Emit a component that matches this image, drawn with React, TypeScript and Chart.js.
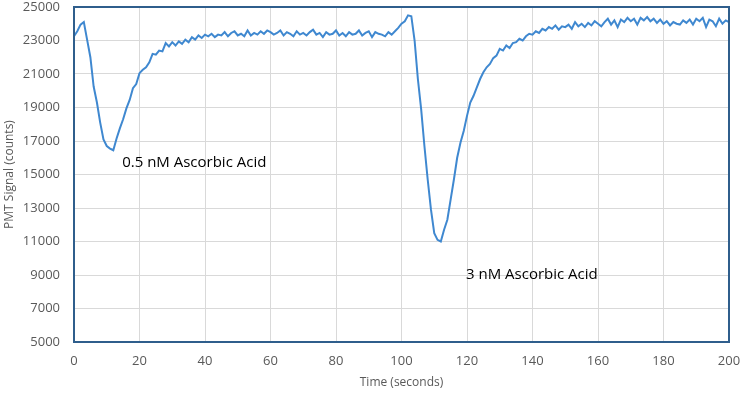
import React, { useEffect, useRef } from "react";
import { Chart, registerables } from "chart.js";

Chart.register(...registerables);

const times: number[] = [
  0, 1, 2, 3, 4, 5, 6, 7, 8, 9, 10, 11, 12, 13, 14, 15, 16, 17, 18, 19,
  20, 21, 22, 23, 24, 25, 26, 27, 28, 29, 30, 31, 32, 33, 34, 35, 36, 37, 38, 39,
  40, 41, 42, 43, 44, 45, 46, 47, 48, 49, 50, 51, 52, 53, 54, 55, 56, 57, 58, 59,
  60, 61, 62, 63, 64, 65, 66, 67, 68, 69, 70, 71, 72, 73, 74, 75, 76, 77, 78, 79,
  80, 81, 82, 83, 84, 85, 86, 87, 88, 89, 90, 91, 92, 93, 94, 95, 96, 97, 98, 99,
  100, 101, 102, 103, 104, 105, 106, 107, 108, 109, 110, 111, 112, 113, 114, 115, 116, 117, 118, 119,
  120, 121, 122, 123, 124, 125, 126, 127, 128, 129, 130, 131, 132, 133, 134, 135, 136, 137, 138, 139,
  140, 141, 142, 143, 144, 145, 146, 147, 148, 149, 150, 151, 152, 153, 154, 155, 156, 157, 158, 159,
  160, 161, 162, 163, 164, 165, 166, 167, 168, 169, 170, 171, 172, 173, 174, 175, 176, 177, 178, 179,
  180, 181, 182, 183, 184, 185, 186, 187, 188, 189, 190, 191, 192, 193, 194, 195, 196, 197, 198, 199,
  200,
];

const pmtSignal: number[] = [
  23250, 23550, 23950, 24100, 23050, 22000, 20250, 19300, 18100, 17100,
  16700, 16550, 16450, 17150, 17750, 18300, 18950, 19450, 20150, 20400,
  21050, 21250, 21400, 21700, 22200, 22150, 22400, 22350, 22850, 22650,
  22900, 22700, 22950, 22800, 23050, 22900, 23200, 23050, 23300, 23150,
  23350, 23250, 23400, 23200, 23350, 23300, 23500, 23250, 23450, 23550,
  23300, 23400, 23250, 23600, 23300, 23450, 23350, 23550, 23400, 23600,
  23500, 23350, 23450, 23600, 23300, 23500, 23400, 23250, 23550, 23350,
  23450, 23300, 23500, 23650, 23350, 23450, 23200, 23500, 23350, 23400,
  23600, 23300, 23450, 23250, 23500, 23350, 23400, 23600, 23300, 23450,
  23550, 23200, 23500, 23400, 23350, 23250, 23500, 23350, 23550, 23750,
  24000, 24150, 24500, 24450, 23000, 20700, 18900, 16700, 14700, 12900,
  11500, 11100, 11000, 11700, 12300, 13500, 14700, 16000, 16900, 17600,
  18500, 19300, 19700, 20200, 20700, 21100, 21400, 21600, 21950, 22100,
  22500, 22400, 22700, 22550, 22850, 22900, 23100, 23000, 23250, 23400,
  23350, 23550, 23450, 23700, 23600, 23800, 23700, 23900, 23650, 23850,
  23800, 23950, 23700, 24100, 23850, 24000, 23800, 24050, 23900, 24150,
  24000, 23850, 24100, 24300, 23950, 24200, 23800, 24250, 24100, 24350,
  24150, 24300, 23950, 24350, 24200, 24400, 24150, 24300, 24050, 24250,
  24000, 24150, 23900, 24100, 24000, 23950, 24200, 24050, 24250, 23950,
  24300, 24150, 24350, 23800, 24250, 24150, 23850, 24300, 24000, 24200,
  24100,
];

const annotationTexts: string[] = ["0.5 nM Ascorbic Acid", "3 nM Ascorbic Acid"];
const annotationX: number[] = [14.7, 119.7];
const annotationY: number[] = [15700, 9000];

const xTitle = "Time (seconds)";
const yTitle = "PMT Signal (counts)";

const FONT = "'Open Sans', 'Liberation Sans', sans-serif";

const frameAndNotes = {
  id: "frameAndNotes",
  afterDatasetsDraw(chart: any) {
    const { ctx, chartArea, scales } = chart;
    ctx.save();
    ctx.strokeStyle = "#2F5E8C";
    ctx.lineWidth = 2;
    ctx.strokeRect(
      chartArea.left,
      chartArea.top,
      chartArea.right - chartArea.left,
      chartArea.bottom - chartArea.top
    );
    ctx.fillStyle = "#000000";
    ctx.font = `15px ${FONT}`;
    ctx.textAlign = "left";
    ctx.textBaseline = "middle";
    annotationTexts.forEach((t, i) => {
      ctx.fillText(
        t,
        scales.x.getPixelForValue(annotationX[i]),
        scales.y.getPixelForValue(annotationY[i])
      );
    });
    ctx.restore();
  },
};

export default function App() {
  const canvasRef = useRef<HTMLCanvasElement | null>(null);

  useEffect(() => {
    const canvas = canvasRef.current;
    if (!canvas) return;
    const chart = new Chart(canvas, {
      type: "line",
      data: {
        datasets: [
          {
            label: "PMT Signal",
            data: times.map((t, i) => ({ x: t, y: pmtSignal[i] })),
            borderColor: "#3F88D0",
            borderWidth: 2,
            pointRadius: 0,
            tension: 0,
            fill: false,
          },
        ],
      },
      options: {
        responsive: false,
        animation: false,
        layout: { padding: { left: 0, right: 14, top: 7, bottom: 0 } },
        plugins: {
          legend: { display: false },
          tooltip: { enabled: false },
        },
        scales: {
          x: {
            type: "linear",
            min: 0,
            max: 200,
            border: { display: false },
            grid: { color: "#D9D9D9", lineWidth: 1, drawTicks: false },
            ticks: {
              stepSize: 20,
              padding: 11,
              color: "#595959",
              font: { family: FONT, size: 13 },
              maxRotation: 0,
              callback: (v: any) => String(v),
            },
            title: {
              display: true,
              text: xTitle,
              color: "#595959",
              font: { family: FONT, size: 12 },
              padding: { top: 4, bottom: 4 },
            },
            afterFit(scale: any) {
              scale.height = 52;
              scale.paddingLeft = 0;
              scale.paddingRight = 0;
            },
          },
          y: {
            type: "linear",
            min: 5000,
            max: 25000,
            border: { display: false },
            grid: { color: "#D9D9D9", lineWidth: 1, drawTicks: false },
            ticks: {
              stepSize: 2000,
              padding: 14,
              color: "#595959",
              font: { family: FONT, size: 13 },
              callback: (v: any) => String(v),
            },
            title: {
              display: true,
              text: yTitle,
              color: "#595959",
              font: { family: FONT, size: 12 },
              padding: { top: 2, bottom: 2 },
            },
            afterFit(scale: any) {
              scale.width = 74;
              scale.paddingTop = 0;
              scale.paddingBottom = 0;
            },
          },
        },
      },
      plugins: [frameAndNotes],
    });
    return () => chart.destroy();
  }, []);

  return (
    <div
      style={{
        position: "fixed",
        left: 0,
        top: 0,
        width: 743,
        height: 394,
        background: "#ffffff",
      }}
    >
      <canvas ref={canvasRef} width={743} height={394} style={{ display: "block" }} />
    </div>
  );
}
